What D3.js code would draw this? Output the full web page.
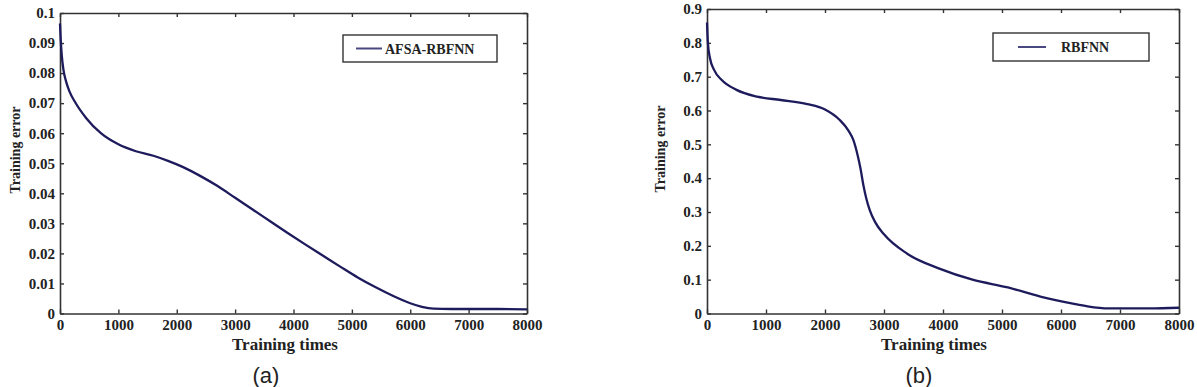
<!DOCTYPE html>
<html>
<head>
<meta charset="utf-8">
<script src="https://cdn.jsdelivr.net/npm/d3@7"></script>
<style>
  body { margin: 0; background: #fff; }
  svg { display: block; }
</style>
</head>
<body>
<svg id="chart" width="1197" height="387"></svg>
<script>
// training times (x) and errors (y)
const afsaTimes = [0, 10, 30, 60, 100, 160, 260, 450, 700, 1000, 1300, 1600, 1850, 2100, 2400, 2700, 3000, 3300, 3600, 3900, 4200, 4500, 4800, 5100, 5400, 5700, 6000, 6200, 6400, 6700, 7500, 8000];
const afsaErrors = [0.0965, 0.092, 0.086, 0.081, 0.0775, 0.074, 0.0703, 0.065, 0.0600, 0.0563, 0.0540, 0.0525, 0.0508, 0.0488, 0.0458, 0.0424, 0.0385, 0.0346, 0.0307, 0.0268, 0.0230, 0.0193, 0.0156, 0.0120, 0.0088, 0.0059, 0.0034, 0.0022, 0.0016, 0.0015, 0.0015, 0.0014];

const rbfTimes = [0, 15, 50, 120, 250, 500, 850, 1250, 1700, 2000, 2250, 2400, 2480, 2550, 2600, 2650, 2700, 2760, 2850, 3000, 3400, 3950, 4500, 5100, 5650, 6200, 6450, 6800, 7500, 8000];
const rbfErrors = [0.86, 0.80, 0.755, 0.72, 0.69, 0.661, 0.641, 0.631, 0.619, 0.603, 0.572, 0.54, 0.513, 0.47, 0.43, 0.38, 0.34, 0.305, 0.27, 0.234, 0.176, 0.132, 0.100, 0.077, 0.050, 0.029, 0.021, 0.015, 0.015, 0.017];

const xTicks = [0, 1000, 2000, 3000, 4000, 5000, 6000, 7000, 8000];
const afsaYTicks = [0, 0.01, 0.02, 0.03, 0.04, 0.05, 0.06, 0.07, 0.08, 0.09, 0.1];
const rbfYTicks = [0, 0.1, 0.2, 0.3, 0.4, 0.5, 0.6, 0.7, 0.8, 0.9];

const svg = d3.select('#chart');
const lineColor = '#1d1b5c';
const frameColor = '#333';
const serif = '"Liberation Serif", "DejaVu Serif", serif';

function drawPanel(p) {
    const x = d3.scaleLinear().domain([0, 8000]).range([p.left, p.right]);
    const y = d3.scaleLinear().domain([0, p.yMax]).range([p.bottom, p.top]);
    const g = svg.append('g');

    // inward ticks on all four sides, like matlab
    const axes = [
        { gen: d3.axisBottom(x).tickValues(xTicks).tickFormat(d3.format('d')), pos: `translate(0,${p.bottom})`, pad: 6 },
        { gen: d3.axisTop(x).tickValues(xTicks).tickFormat(''), pos: `translate(0,${p.top})`, pad: 6 },
        { gen: d3.axisLeft(y).tickValues(p.yTicks).tickFormat(d => d === 0 ? '0' : String(+d.toFixed(2))), pos: `translate(${p.left},0)`, pad: 5 },
        { gen: d3.axisRight(y).tickValues(p.yTicks).tickFormat(''), pos: `translate(${p.right},0)`, pad: 6 }
    ];
    axes.forEach(a => {
        const ag = g.append('g').attr('transform', a.pos)
            .call(a.gen.tickSizeInner(-4).tickSizeOuter(0).tickPadding(a.pad));
        ag.select('.domain').attr('stroke', frameColor).attr('stroke-width', 1.6);
        ag.selectAll('.tick line').attr('stroke', frameColor).attr('stroke-width', 1.4);
        ag.selectAll('.tick text')
            .attr('font-family', serif).attr('font-weight', 'bold')
            .attr('font-size', 15).attr('fill', '#222');
    });

    const line = d3.line()
        .x((d, i) => x(p.times[i]))
        .y(d => y(d))
        .curve(d3.curveMonotoneX);
    g.append('path')
        .datum(p.errors)
        .attr('d', line)
        .attr('fill', 'none')
        .attr('stroke', lineColor)
        .attr('stroke-width', 2.3);

    // legend
    const lg = p.legend;
    g.append('rect')
        .attr('x', lg.x).attr('y', lg.y).attr('width', lg.w).attr('height', lg.h)
        .attr('fill', '#fff').attr('stroke', frameColor).attr('stroke-width', 1.4);
    g.append('line')
        .attr('x1', lg.lineX1).attr('x2', lg.lineX2)
        .attr('y1', lg.y + lg.h / 2).attr('y2', lg.y + lg.h / 2)
        .attr('stroke', '#4a4880').attr('stroke-width', 2);
    g.append('text')
        .attr('x', lg.textX).attr('y', lg.y + lg.h / 2 + 5)
        .attr('font-family', serif).attr('font-weight', 'bold')
        .attr('font-size', 14).attr('fill', '#222')
        .text(p.name);

    // axis titles
    g.append('text')
        .attr('x', p.xTitleX).attr('y', 350)
        .attr('text-anchor', 'middle')
        .attr('font-family', serif).attr('font-weight', 'bold')
        .attr('font-size', 17).attr('fill', '#222')
        .text('Training times');
    g.append('text')
        .attr('transform', `translate(${p.yTitleX},${p.yTitleY}) rotate(-90)`)
        .attr('text-anchor', 'middle')
        .attr('font-family', serif).attr('font-weight', 'bold')
        .attr('font-size', 14).attr('fill', '#222')
        .text('Training error');

    // panel caption
    g.append('text')
        .attr('x', p.captionX).attr('y', 383)
        .attr('text-anchor', 'middle')
        .attr('font-family', '"Liberation Sans", Arial, sans-serif')
        .attr('font-size', 22).attr('fill', '#222')
        .text(p.caption);
}

drawPanel({
    left: 60, right: 527, top: 13, bottom: 313.5, yMax: 0.1,
    yTicks: afsaYTicks, times: afsaTimes, errors: afsaErrors, name: 'AFSA-RBFNN',
    legend: { x: 343, y: 35, w: 154, h: 27, lineX1: 356, lineX2: 382, textX: 385 },
    xTitleX: 285, yTitleX: 20, yTitleY: 150, captionX: 266, caption: '(a)'
});
drawPanel({
    left: 707, right: 1179, top: 9, bottom: 313.5, yMax: 0.9,
    yTicks: rbfYTicks, times: rbfTimes, errors: rbfErrors, name: 'RBFNN',
    legend: { x: 993, y: 33, w: 156, h: 28, lineX1: 1018, lineX2: 1046, textX: 1061 },
    xTitleX: 934, yTitleX: 665, yTitleY: 149, captionX: 919, caption: '(b)'
});
</script>
</body>
</html>
